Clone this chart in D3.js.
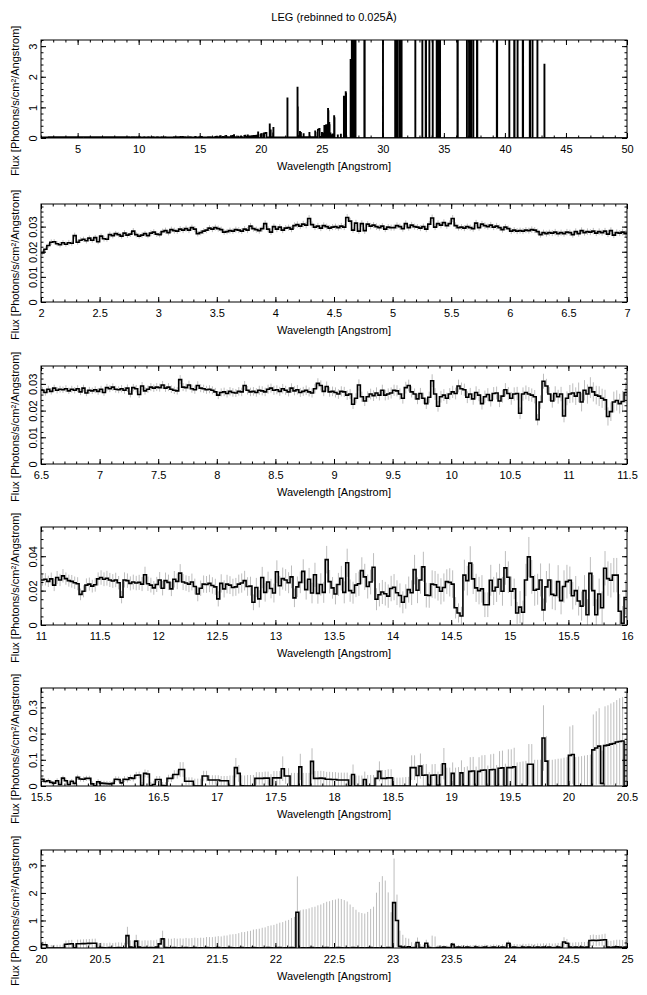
<!DOCTYPE html>
<html><head><meta charset="utf-8">
<script src="https://cdn.jsdelivr.net/npm/d3@7"></script>
<style>body{margin:0;background:#fff} text{font-family:"Liberation Sans",Arial,Helvetica,sans-serif}</style>
</head><body><svg id="c" width="647" height="995"></svg>
<script>
// ---------------- DATA (flux per 0.025 Å bin) ----------------
const binWidth = 0.025;
const titleText = "LEG (rebinned to 0.025Å)";
// segment starts (Å); A-D values in 1e-4, E values in 1e-3 photons/s/cm²/Å
const segStart = [2.0, 6.5, 11.0, 15.5, 20.0];
const fluxA = [
195,210,225,238,240,232,228,236,230,236, 234,264,238,246,250,244,254,246,256,240,
262,252,250,268,264,272,268,262,274,266, 270,282,268,262,266,272,264,274,278,270,
268,280,284,276,288,284,282,290,286,292, 286,296,290,272,276,282,286,294,290,296,
292,288,278,280,284,282,288,286,282,290, 286,302,292,288,284,292,312,290,278,300,
290,298,286,294,296,290,304,308,302,310, 306,332,308,298,302,294,304,300,294,298,
300,296,302,298,336,322,286,314,282,312, 284,310,302,306,300,296,302,290,298,296,
296,304,300,292,312,296,306,300,298,294, 300,290,310,334,298,312,306,316,304,312,
332,304,296,298,294,300,296,292,314,296, 310,304,300,306,298,302,296,288,298,292,
282,286,282,284,282,286,284,288,286,280, 268,276,272,276,274,278,272,276,272,278];
const errA = [
10,11,10,11,10,10,11,10,10,11, 10,12,10,11,10,11,11,10,11,10,
11,11,10,12,11,11,11,10,12,11, 11,12,11,10,11,11,10,12,12,11,
11,12,12,11,12,12,11,12,12,12, 12,12,12,11,11,12,12,12,12,12,
12,12,11,11,12,11,12,12,11,12, 12,13,12,12,12,12,13,12,11,12,
12,12,12,12,12,12,13,13,12,13, 13,14,13,12,13,12,13,12,12,12,
12,12,13,12,14,13,11,13,11,13, 13,12,13,12,13,12,12,12,12,12,
12,13,12,12,13,12,13,12,12,12, 12,12,13,14,12,13,13,13,13,13,
14,13,12,12,12,12,12,12,13,12, 13,13,12,13,12,13,12,12,12,12,
12,12,12,12,12,12,12,13,12,12, 12,12,12,12,12,13,12,12,12,13];
const fluxB = [
276,268,280,272,284,276,280,278,282,274, 280,276,282,270,284,266,276,274,278,272,
280,268,286,282,288,280,278,282,276,284, 262,286,282,260,292,274,280,288,284,288,
286,296,284,288,280,276,274,316,288,286, 296,282,278,294,284,282,278,280,276,270,
258,268,270,264,272,268,266,272,270,294, 276,270,272,268,276,274,270,280,284,276,
278,272,282,276,270,284,274,278,268,272, 276,270,266,282,302,294,272,290,270,272,
268,262,272,270,258,262,224,246,296,252, 236,252,262,256,266,258,276,258,262,266,
276,274,262,246,286,294,270,262,244,264, 246,226,250,312,262,216,252,258,246,262,
270,264,292,282,278,250,262,244,268,258, 226,252,260,238,264,266,236,254,278,264,
246,262,264,190,262,268,262,258,252,166, 232,310,292,262,236,264,252,262,180,246];
const errB = [
12,12,13,12,13,12,13,12,13,12, 13,12,13,12,13,12,13,12,13,13,
13,13,14,13,14,13,13,14,13,14, 13,14,14,13,15,14,14,15,14,15,
15,15,14,15,14,14,14,17,15,15, 16,15,15,16,15,15,15,15,15,15,
15,15,16,15,16,16,15,16,16,17, 16,16,16,16,17,17,16,17,17,17,
17,17,18,17,17,18,17,18,17,17, 18,17,17,18,19,19,18,19,18,18,
19,18,19,19,18,19,18,19,21,19, 19,20,20,20,21,20,21,20,21,21,
21,21,21,20,22,22,21,21,20,21, 21,20,21,24,22,20,22,22,21,22,
23,22,24,23,23,22,23,22,23,23, 22,23,24,23,24,24,23,24,25,24,
24,25,25,22,25,26,26,25,25,21, 25,28,27,26,25,27,26,27,24,26];
const fluxC = [
262,266,254,268,232,276,262,286,270,258, 254,246,240,178,196,232,238,226,234,268,
276,266,272,262,256,262,246,162,262,258, 242,250,244,248,238,292,240,232,216,236,
262,214,258,248,210,266,254,302,250,244, 238,250,224,180,214,238,236,242,230,222,
152,242,210,238,232,218,222,238,244,258, 224,226,132,218,152,276,190,250,212,186,
310,228,270,262,246,280,158,222,248,312, 206,266,186,292,184,236,190,380,252,216,
180,236,272,190,362,200,188,232,240,316, 280,224,250,336,150,176,192,182,168,212,
220,188,172,132,166,206,188,322,202,262, 338,174,172,238,234,220,196,218,252,248,
238,100,70,52,290,258,360,268,216,200, 210,118,118,260,198,220,266,196,332,278,
196,210,70,104,74,262,396,280,202,208, 262,88,222,262,178,172,252,142,224,252];
const errC = [
34,36,33,37,35,38,36,39,36,35, 37,36,38,34,35,39,38,37,40,38,
42,40,43,41,40,42,39,36,44,42, 41,43,42,44,41,47,42,43,40,44,
46,42,47,45,42,48,46,52,47,45, 47,49,46,42,45,50,49,51,48,47,
44,53,50,54,52,51,52,55,56,57, 54,55,46,56,50,62,54,60,57,55,
66,58,64,63,61,66,54,60,63,70, 58,66,60,70,60,65,61,80,68,63,
60,67,72,64,82,65,64,70,71,78, 76,70,72,82,64,68,70,69,68,74,
76,72,70,64,71,76,72,86,75,80, 88,72,72,80,80,78,76,82,72,82,
80,62,56,54,90,86,98,88,82,80, 80,72,72,90,82,86,90,84,98,92,
86,60,64,94,68,94,116,98,90,90, 96,66,92,96,86,86,96,80,94,98];
const fluxD = [
260,170,200,140,110,200,60,300,200,60, 180,100,330,270,260,290,290,80,10,160,
110,100,90,80,100,260,250,120,260,250, 310,290,410,420,20,480,460,10,60,250,
250,20,10,290,290,440,440,630,630,180, 180,180,0,0,0,380,380,230,230,230,
230,200,200,200,0,0,700,480,10,0, 0,0,0,290,290,290,300,300,0,310,
310,310,660,380,380,0,0,0,730,0, 0,0,940,290,290,300,290,260,260,250,
250,230,230,230,230,10,440,0,0,0, 250,0,0,0,290,560,290,290,310,310,
0,0,0,0,0,0,700,700,400,760, 410,420,30,410,420,30,420,850,0,0,
480,0,0,500,0,0,560,570,0,560, 600,610,0,620,630,0,680,690,0,700,
700,730,0,0,0,0,830,830,0,0, 0,1830,950,0,0,0,0,0,0,0];
const errD = [
80,80,85,85,85,90,90,95,90,90, 90,95,100,100,100,100,100,100,100,100,
100,100,105,105,105,110,110,110,115,115, 120,120,130,130,130,150,150,140,140,130,
130,130,130,140,140,160,160,280,280,150, 150,150,280,280,280,200,200,180,180,180,
180,180,180,180,400,400,370,320,400,400, 420,420,420,240,240,240,250,250,450,260,
260,260,470,300,300,500,500,500,500,500, 500,500,500,280,280,280,280,280,280,280,
280,280,280,280,280,400,380,400,400,400, 300,420,420,420,320,380,320,320,330,330,
320,320,320,330,340,350,470,470,400,480, 420,420,500,420,420,520,420,600,700,700,
420,700,720,480,720,750,540,540,740,540, 570,570,780,590,600,800,650,660,850,700,
700,730,900,920,940,960,770,770,1000,1000, 1000,1250,950,1000,1000,1020,1040,1050,1080,1100];
const fluxE = [
117,120,0,0,0,0,0,0,138,145, 152,10,154,156,160,162,168,170,172,0,
20,10,0,15,0,10,20,5,0,450, 30,20,250,30,10,20,10,20,10,30,
150,330,20,10,0,20,0,10,0,20, 0,10,20,0,10,0,20,10,0,10,
20,0,10,0,20,10,0,10,20,0, 10,0,20,10,0,10,0,20,10,0,
10,20,0,10,0,20,10,1300,0,10, 0,10,20,0,10,0,10,20,0,10,
0,20,10,0,10,0,20,10,0,10, 0,10,20,0,10,0,10,0,20,0,
1650,1000,60,30,20,40,10,20,200,20, 10,170,20,0,0,20,10,30,20,10,
130,20,30,20,10,30,20,10,30,20, 20,30,10,20,30,20,10,30,20,170,
20,30,20,10,30,20,30,20,10,30, 20,30,20,30,10,20,30,20,220,170,
30,20,30,20,30,20,30,270,280,270, 280,290,300,30,20,30,40,30,20,30];
const errE = [
110,112,110,112,114,116,118,120,135,140, 145,125,150,152,155,158,160,165,168,170,
170,175,175,180,180,185,185,190,190,320, 250,250,230,255,258,260,262,265,268,270,
200,300,330,332,334,336,338,340,342,345, 348,352,356,360,365,370,378,386,394,402,
410,420,440,455,470,490,510,530,555,580, 600,625,650,675,700,725,750,780,810,840,
870,900,940,980,1020,1070,1120,1300,1370,1390, 1410,1430,1460,1500,1540,1580,1620,1660,1700,1730,
1760,1775,1770,1740,1680,1580,1470,1380,1300,1260, 1250,1300,1400,1500,2000,2400,2600,2450,2000,1300,
1600,940,570,450,350,300,200,150,180,120, 110,130,100,450,420,80,80,70,70,70,
70,80,80,85,85,85,85,90,90,90, 90,95,95,95,100,100,100,105,105,100,
110,115,120,120,125,125,130,130,135,135, 140,140,145,145,150,150,155,155,170,160,
170,175,180,185,190,195,200,200,210,200, 200,210,220,230,240,250,260,270,270,280];
// 25–50 Å: non-zero bins only (bin start, flux in 1e-3); many run off the top
const lineWl = [25.0,25.025,25.1,25.2,25.225,25.35,25.375,25.5,25.525,25.6,25.625,25.7,25.8,25.9,
26.0,26.025,26.3,26.55,26.8,26.825,26.95,26.975,27.35,27.375,27.45,27.5,27.525,27.6,27.65,27.75,
28.475,28.5,30.0,31.0,31.025,31.175,31.35,31.375,31.525,32.65,33.225,33.5,33.525,33.8,34.075,
34.4,34.425,34.575,34.675,36.1,36.125,36.875,37.05,37.075,37.225,37.4,37.7,37.725,39.325,39.35,
40.35,40.75,40.775,41.025,41.45,41.475,42.025,42.05,42.25,42.65,43.225];
const lineFlux = [170,120,150,400,380,420,300,950,880,500,420,150,100,120,
720,650,90,110,1350,1300,1500,1450,2550,2500,6200,8400,5100,7300,4600,9800,
5600,4200,7600,5300,6100,8900,4700,6600,5800,7100,4900,6300,5200,9100,5500,
7700,4800,6900,5400,8200,4500,6400,5700,7800,4900,8600,5300,6000,7200,5100,
6700,5900,4600,8100,5200,4700,6800,5500,7400,5000,2400];

// panel setup
const panelXMin = [2, 2, 6.5, 11, 15.5, 20];
const panelXMax = [50, 7, 11.5, 16, 20.5, 25];
const panelYMax = [3.2, 0.039, 0.0367, 0.057, 0.374, 3.56];
const yTickVals = [[0,1,2,3],[0,0.01,0.02,0.03],[0,0.01,0.02,0.03],[0,0.02,0.04],[0,0.1,0.2,0.3],[0,1,2,3]];
const xMajorStep = [5, 0.5, 0.5, 0.5, 0.5, 0.5];
const xMinorStep = [1, 0.1, 0.1, 0.1, 0.1, 0.1];
const yMinorStep = [0.2, 0.002, 0.002, 0.005, 0.02, 0.2];
const showErr = [false, true, true, true, true, true];
const xTitle = "Wavelength [Angstrom]";
const yTitle = "Flux [Photons/s/cm²/Angstrom]";

// ---------------- BUILD BINS ----------------
const bins = [];
function addSeg(start, flux, err, unit) {
  flux.forEach((f, i) => bins.push({
    x0: +(start + i*binWidth).toFixed(4), x1: +(start + (i+1)*binWidth).toFixed(4),
    v: f*unit, e: err[i]*unit }));
}
addSeg(segStart[0], fluxA, errA, 1e-4);
addSeg(segStart[1], fluxB, errB, 1e-4);
addSeg(segStart[2], fluxC, errC, 1e-4);
addSeg(segStart[3], fluxD, errD, 1e-4);
addSeg(segStart[4], fluxE, errE, 1e-3);
const lineMap = new Map(lineWl.map((w, i) => [Math.round((w - 25)/binWidth), lineFlux[i]*1e-3]));
for (let i = 0; i < Math.round(25/binWidth); i++) {
  bins.push({x0: +(25 + i*binWidth).toFixed(4), x1: +(25 + (i+1)*binWidth).toFixed(4), v: lineMap.get(i) || 0, e: 0});
}

// ---------------- DRAW ----------------
const svg = d3.select("#c");
const FONT = "Liberation Sans, Arial, Helvetica, sans-serif";
const left = 41, right = 627, ph = 98;
const tops = [40, 204, 366, 527, 688, 850];

svg.append("text").attr("x", 334).attr("y", 21).attr("text-anchor", "middle")
  .attr("font-size", 11).text(titleText);

function stepTicks(min, max, step) {
  const out = [];
  for (let k = Math.ceil(min/step - 1e-9); k <= Math.floor(max/step + 1e-9); k++) out.push(+(k*step).toFixed(6));
  return out;
}
const fmt = d3.format("~g");

tops.forEach((top, p) => {
  const bottom = top + ph;
  const x = d3.scaleLinear().domain([panelXMin[p], panelXMax[p]]).range([left, right]);
  const y = d3.scaleLinear().domain([0, panelYMax[p]]).range([bottom, top]);
  const g = svg.append("g");
  const cid = "clip" + p;
  g.append("clipPath").attr("id", cid).append("rect")
    .attr("x", left).attr("y", top).attr("width", right - left).attr("height", ph);
  const inRange = bins.filter(b => b.x0 >= panelXMin[p] - 1e-6 && b.x1 <= panelXMax[p] + 1e-6);
  const plot = g.append("g").attr("clip-path", `url(#${cid})`);
  if (showErr[p]) {
    plot.selectAll("line.err").data(inRange).join("line").attr("class", "err")
      .attr("x1", b => x((b.x0 + b.x1)/2)).attr("x2", b => x((b.x0 + b.x1)/2))
      .attr("y1", b => y(b.v - b.e)).attr("y2", b => y(b.v + b.e))
      .attr("stroke", "#bdbdbd").attr("stroke-width", 1);
  }
  const pts = inRange.map(b => [x(b.x0), y(b.v)]);
  const last = inRange[inRange.length - 1];
  pts.push([x(last.x1), y(last.v)]);
  plot.append("path").attr("d", d3.line().curve(d3.curveStepAfter)(pts))
    .attr("fill", "none").attr("stroke", "#000").attr("stroke-width", 1.6);

  const xMaj = stepTicks(panelXMin[p], panelXMax[p], xMajorStep[p]);
  const xMin = stepTicks(panelXMin[p], panelXMax[p], xMinorStep[p]);
  const yMin = stepTicks(0, panelYMax[p], yMinorStep[p]);
  const addAxis = (axis, tx, ty) => {
    const a = g.append("g").attr("transform", `translate(${tx},${ty})`).call(axis);
    a.select(".domain").remove();
    a.attr("font-family", FONT).attr("font-size", 11);
    return a;
  };
  // minor ticks
  addAxis(d3.axisBottom(x).tickValues(xMin).tickSize(-2.5).tickFormat(""), 0, bottom);
  addAxis(d3.axisTop(x).tickValues(xMin).tickSize(-2.5).tickFormat(""), 0, top);
  addAxis(d3.axisLeft(y).tickValues(yMin).tickSize(-2.5).tickFormat(""), left, 0);
  addAxis(d3.axisRight(y).tickValues(yMin).tickSize(-2.5).tickFormat(""), right, 0);
  // major ticks
  addAxis(d3.axisBottom(x).tickValues(xMaj).tickSize(-5).tickPadding(7).tickFormat(fmt), 0, bottom);
  addAxis(d3.axisTop(x).tickValues(xMaj).tickSize(-5).tickFormat(""), 0, top);
  const ya = addAxis(d3.axisLeft(y).tickValues(yTickVals[p]).tickSize(-5).tickFormat(fmt), left, 0);
  ya.selectAll("text").attr("x", 0).attr("y", -4).attr("dy", 0)
    .attr("text-anchor", "middle").attr("transform", "rotate(-90)");
  addAxis(d3.axisRight(y).tickValues(yTickVals[p]).tickSize(-5).tickFormat(""), right, 0);

  g.append("rect").attr("x", left).attr("y", top).attr("width", right - left).attr("height", ph)
    .attr("fill", "none").attr("stroke", "#000").attr("stroke-width", 1);

  g.append("text").attr("x", (left + right)/2).attr("y", bottom + 32).attr("text-anchor", "middle")
    .attr("font-size", 11).text(xTitle);
  g.append("text").attr("transform", `translate(19,${bottom + 38}) rotate(-90)`)
    .attr("text-anchor", "start").attr("font-size", 11).text(yTitle);
});
</script></body></html>
